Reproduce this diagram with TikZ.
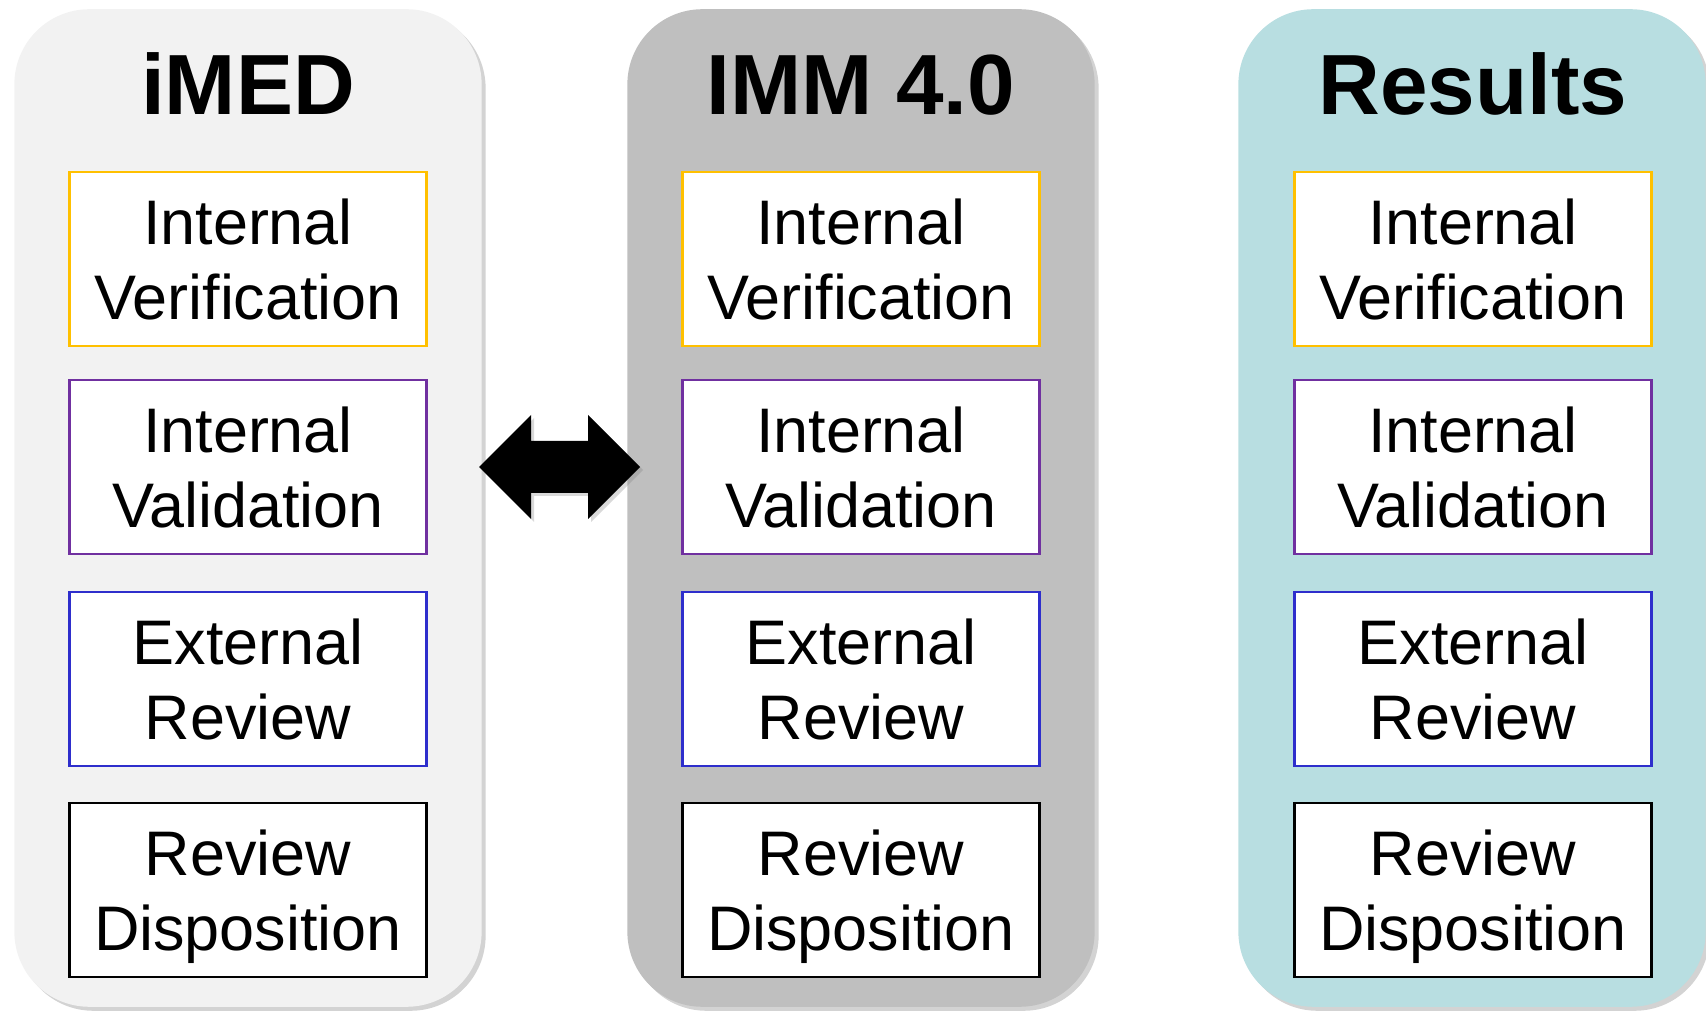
\documentclass[tikz,border=0pt]{standalone}
\usepackage{fontspec}
\setmainfont{Liberation Sans}
\usetikzlibrary{shadows}
\definecolor{imedgray}{HTML}{F2F2F2}
\definecolor{immgray}{HTML}{BFBFBF}
\definecolor{resteal}{HTML}{B8DEE1}
\definecolor{verorange}{HTML}{FFC000}
\definecolor{valpurple}{HTML}{7030A0}
\definecolor{revblue}{HTML}{2E2ECC}

\begin{document}
\begin{tikzpicture}[x=0.01cm, y=-0.01cm,
		panel/.style={rounded corners=0.75cm, minimum width=4.67cm, minimum height=9.97cm, drop shadow={shadow xshift=0.04cm, shadow yshift=-0.04cm, opacity=0.35}},
		title/.style={anchor=base, font=\bfseries\fontsize{24.3}{29}\selectfont},
		stage/.style={draw, line width=0.025cm, fill=white, minimum width=3.57cm, minimum height=1.74cm, align=center, text depth=0pt, font=\fontsize{17.9}{21.3}\selectfont}]
		\useasboundingbox (0,0) rectangle (1706,1013);

		% iMED
		\node[panel, fill=imedgray] (imed) at (248,508) {};
		\node[title] (imed-t) at (248,115) {iMED};
		\node[stage, draw=verorange] (imed-ver) at (248,259) {Internal\\Verification};
		\node[stage, draw=valpurple] (imed-val) at (248,467) {Internal\\Validation};
		\node[stage, draw=revblue] (imed-rev) at (248,679) {External\\Review};
		\node[stage, draw=black] (imed-dis) at (248,890) {Review\\Disposition};

		% IMM 4.0
		\node[panel, fill=immgray] (imm) at (861,508) {};
		\node[title] (imm-t) at (861,115) {IMM 4.0};
		\node[stage, draw=verorange] (imm-ver) at (861,259) {Internal\\Verification};
		\node[stage, draw=valpurple] (imm-val) at (861,467) {Internal\\Validation};
		\node[stage, draw=revblue] (imm-rev) at (861,679) {External\\Review};
		\node[stage, draw=black] (imm-dis) at (861,890) {Review\\Disposition};

		% Results
		\node[panel, fill=resteal] (res) at (1472,508) {};
		\node[title] (res-t) at (1473,115) {Results};
		\node[stage, draw=verorange] (res-ver) at (1473,259) {Internal\\Verification};
		\node[stage, draw=valpurple] (res-val) at (1473,467) {Internal\\Validation};
		\node[stage, draw=revblue] (res-rev) at (1473,679) {External\\Review};
		\node[stage, draw=black] (res-dis) at (1473,890) {Review\\Disposition};

		% two-way arrow
		\fill[black, drop shadow={shadow xshift=0.03cm, shadow yshift=-0.03cm, opacity=0.3}] (479,467) -- (531,415) -- (531,441) -- (588,441) -- (588,415) -- (640,467) -- (588,519) -- (588,493) -- (531,493) -- (531,519) -- cycle;
	\end{tikzpicture}
\end{document}
